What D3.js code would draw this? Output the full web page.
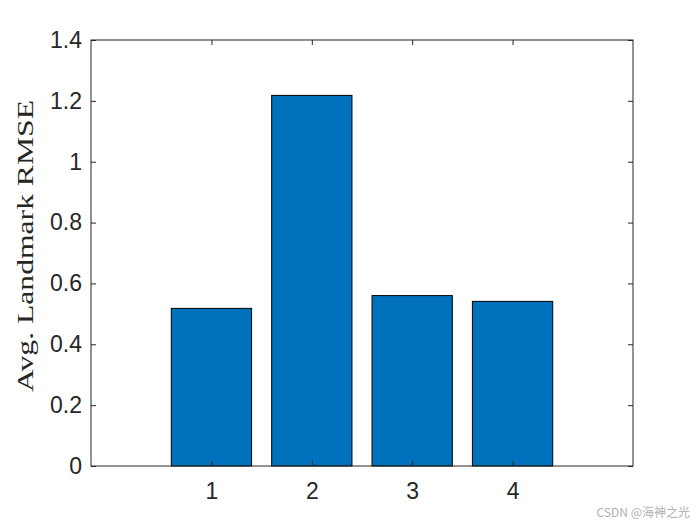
<!DOCTYPE html>
<html>
<head>
<meta charset="utf-8">
<script src="https://cdn.jsdelivr.net/npm/d3@7"></script>
<style>
  body { margin: 0; background: #fff; }
</style>
</head>
<body>
<div id="chart"></div>
<script>
// bar chart data
var categories = [1, 2, 3, 4];
var rmseValues = [0.518, 1.218, 0.560, 0.541];
var yTicks = [0, 0.2, 0.4, 0.6, 0.8, 1, 1.2, 1.4];

var W = 700, H = 525;
var margin = { left: 91, right: 67, top: 40, bottom: 59 };
var iw = W - margin.left - margin.right;
var ih = H - margin.top - margin.bottom;

var svg = d3.select("#chart").append("svg")
    .attr("width", W)
    .attr("height", H);

var g = svg.append("g")
    .attr("transform", "translate(" + margin.left + "," + margin.top + ")");

var x = d3.scaleLinear().domain([-0.2, 5.2]).range([0, iw]);
var y = d3.scaleLinear().domain([0, 1.4]).range([ih, 0]);
var barW = x(0.8) - x(0);

// bars
g.selectAll(".bar")
    .data(rmseValues)
    .enter()
    .append("rect")
    .attr("class", "bar")
    .attr("x", function (d, i) { return x(categories[i]) - barW / 2; })
    .attr("y", function (d) { return y(d); })
    .attr("width", barW)
    .attr("height", function (d) { return y(0) - y(d); })
    .style("fill", "#0072bd")
    .style("stroke", "#000")
    .style("stroke-width", "1px");

// axes, ticks inward like matlab
var tickLen = 5;
var axisColor = "#262626";

var leftAxis = g.append("g").call(d3.axisLeft(y).tickValues(yTicks).tickSizeInner(-tickLen).tickSizeOuter(0).tickPadding(9)
    .tickFormat(function (d) { return d3.format("")(+d.toFixed(1)); }));
var rightAxis = g.append("g").attr("transform", "translate(" + iw + ",0)")
    .call(d3.axisRight(y).tickValues(yTicks).tickSizeInner(-tickLen).tickSizeOuter(0).tickFormat(""));
var bottomAxis = g.append("g").attr("transform", "translate(0," + ih + ")")
    .call(d3.axisBottom(x).tickValues(categories).tickSizeInner(-tickLen).tickSizeOuter(0).tickPadding(17).tickFormat(d3.format("d")));
var topAxis = g.append("g")
    .call(d3.axisTop(x).tickValues(categories).tickSizeInner(-tickLen).tickSizeOuter(0).tickFormat(""));

[leftAxis, rightAxis, bottomAxis, topAxis].forEach(function (a) {
    a.selectAll(".domain").remove();
    a.selectAll("line").style("stroke", axisColor).style("stroke-width", "1px");
    a.selectAll("text")
        .style("font-family", "Arial, 'Liberation Sans', sans-serif")
        .style("font-size", "23px")
        .style("fill", axisColor);
});

// box
g.append("rect")
    .attr("x", 0).attr("y", 0)
    .attr("width", iw).attr("height", ih)
    .style("fill", "none")
    .style("stroke", axisColor)
    .style("stroke-width", "1px");

// y label
svg.append("text")
    .attr("transform", "translate(33,246) rotate(-90)")
    .attr("text-anchor", "middle")
    .attr("textLength", 292)
    .attr("lengthAdjust", "spacingAndGlyphs")
    .style("font-family", "'Liberation Serif', 'DejaVu Serif', serif")
    .style("font-size", "24px")
    .style("fill", "#262626")
    .text("Avg. Landmark RMSE");

// watermark
svg.append("text")
    .attr("x", 690)
    .attr("y", 517)
    .attr("text-anchor", "end")
    .style("font-family", "'Noto Sans CJK SC', sans-serif")
    .style("font-size", "12px")
    .style("fill", "#b0b0b0")
    .text("CSDN @海神之光");
</script>
</body>
</html>
